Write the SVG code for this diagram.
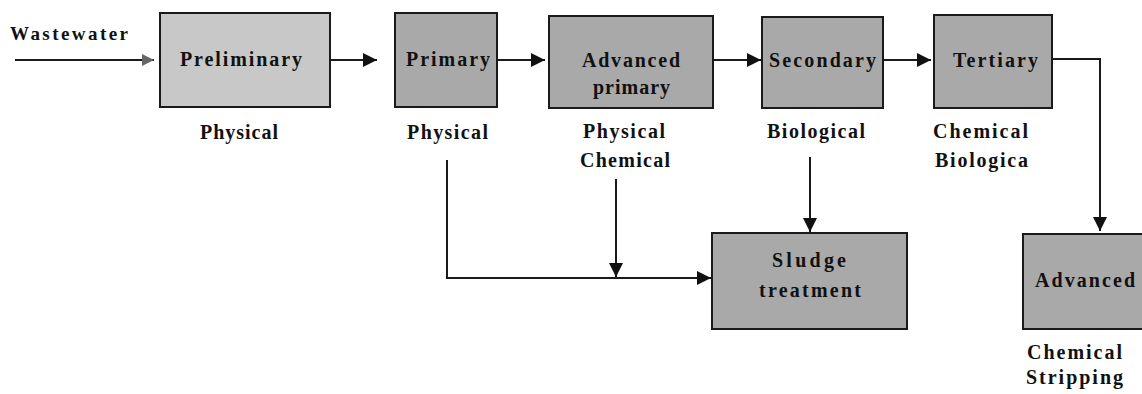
<svg xmlns="http://www.w3.org/2000/svg" width="1142" height="394" viewBox="0 0 1142 394">
<style>
.box{fill:#a9a9a9;stroke:#1a1a1a;stroke-width:2}
.light{fill:#c8c8c8}
.t{font-family:"Liberation Serif","Times New Roman",serif;font-weight:bold;font-size:20px;fill:#111}
.bt{font-family:"Liberation Serif","Times New Roman",serif;font-weight:bold;font-size:20px;fill:#111}
.c{fill:none;stroke:#1a1a1a;stroke-width:2}
</style>
<defs>
<marker id="ah" markerUnits="userSpaceOnUse" markerWidth="15" markerHeight="14" refX="14" refY="7" orient="auto">
<path d="M0,0 L14,7 L0,14 z" fill="#111"/>
</marker>
<marker id="ahg" markerUnits="userSpaceOnUse" markerWidth="13" markerHeight="12" refX="12" refY="6" orient="auto">
<path d="M0,0 L12,6 L0,12 z" fill="#666"/>
</marker>
</defs>
<g id="connectors">
<line class="c" x1="15" y1="60" x2="154" y2="60" marker-end="url(#ahg)"/>
<line class="c" x1="331" y1="60" x2="377" y2="60" marker-end="url(#ah)"/>
<line class="c" x1="498" y1="60" x2="545" y2="60" marker-end="url(#ah)"/>
<line class="c" x1="714" y1="60" x2="761" y2="60" marker-end="url(#ah)"/>
<line class="c" x1="884" y1="60" x2="931" y2="60" marker-end="url(#ah)"/>
<polyline class="c" points="1053,59 1100,59 1100,231" marker-end="url(#ah)"/>
<polyline class="c" points="447,160 447,278 711,278" marker-end="url(#ah)"/>
<line class="c" x1="616" y1="179" x2="616" y2="277" marker-end="url(#ah)"/>
<line class="c" x1="810" y1="157" x2="810" y2="232" marker-end="url(#ah)"/>
</g>
<g id="wastewater">
<text class="t" x="10" y="40" style="font-size:19px" textLength="118" lengthAdjust="spacing">Wastewater</text>
</g>
<g id="preliminary">
<rect class="box light" x="160" y="13" width="170" height="94"/>
<text class="bt" x="180" y="66" textLength="122" lengthAdjust="spacing">Preliminary</text>
<text class="t" x="200" y="139" textLength="78" lengthAdjust="spacing">Physical</text>
</g>
<g id="primary">
<rect class="box" x="395" y="13" width="102" height="94"/>
<text class="bt" x="406" y="66" textLength="84" lengthAdjust="spacing">Primary</text>
<text class="t" x="407" y="139" textLength="81" lengthAdjust="spacing">Physical</text>
</g>
<g id="advanced-primary">
<rect class="box" x="549" y="16" width="164" height="92"/>
<text class="bt" x="582" y="67" textLength="98" lengthAdjust="spacing">Advanced</text>
<text class="bt" x="593" y="94" textLength="77" lengthAdjust="spacing">primary</text>
<text class="t" x="583" y="138" textLength="82" lengthAdjust="spacing">Physical</text>
<text class="t" x="580" y="167" textLength="90" lengthAdjust="spacing">Chemical</text>
</g>
<g id="secondary">
<rect class="box" x="762" y="17" width="121" height="91"/>
<text class="bt" x="769" y="67" textLength="107" lengthAdjust="spacing">Secondary</text>
<text class="t" x="767" y="138" textLength="98" lengthAdjust="spacing">Biological</text>
</g>
<g id="tertiary">
<rect class="box" x="934" y="15" width="118" height="93"/>
<text class="bt" x="953" y="67" textLength="85" lengthAdjust="spacing">Tertiary</text>
<text class="t" x="933" y="138" textLength="95" lengthAdjust="spacing">Chemical</text>
<text class="t" x="935" y="167" textLength="93" lengthAdjust="spacing">Biologica</text>
</g>
<g id="sludge">
<rect class="box" x="712" y="233" width="195" height="96"/>
<text class="bt" x="772" y="267" textLength="74" lengthAdjust="spacing">Sludge</text>
<text class="bt" x="759" y="297" textLength="102" lengthAdjust="spacing">treatment</text>
</g>
<g id="advanced">
<rect class="box" x="1023" y="234" width="130" height="95"/>
<text class="bt" x="1035" y="287" textLength="100" lengthAdjust="spacing">Advanced</text>
<text class="t" x="1027" y="359" textLength="95" lengthAdjust="spacing">Chemical</text>
<text class="t" x="1026" y="384" textLength="97" lengthAdjust="spacing">Stripping</text>
</g>
</svg>
